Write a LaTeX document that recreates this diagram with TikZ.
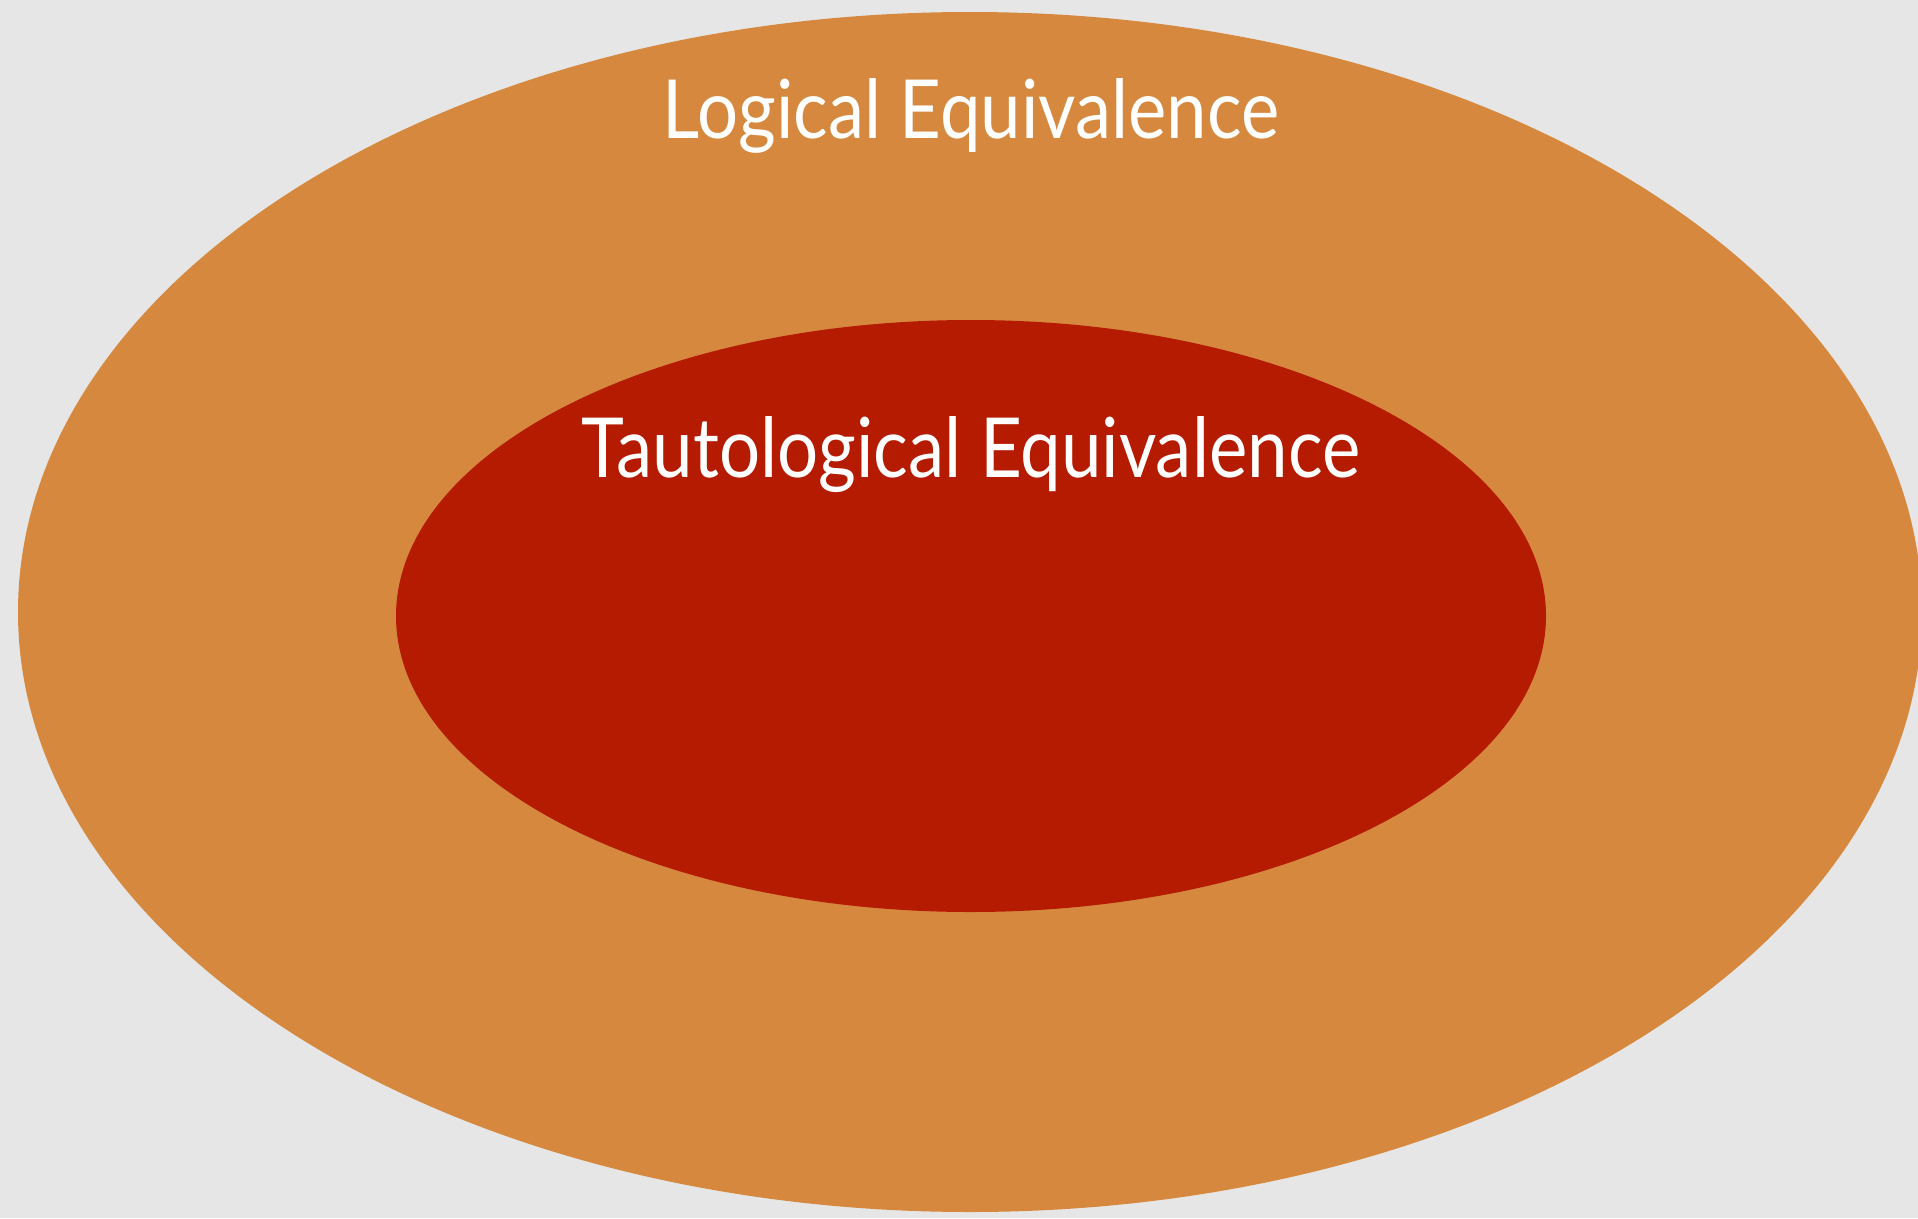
\documentclass[tikz,border=0pt]{standalone}
\usepackage{fontspec}
\setmainfont{Lato}
\usetikzlibrary{shapes.geometric}
\definecolor{bggray}{HTML}{E6E6E6}
\definecolor{outerorange}{HTML}{D6893E}
\definecolor{innerred}{HTML}{B41B00}
\tikzset{
  blob/.style={ellipse, inner sep=0pt, draw=none},
  label/.style={text=white, inner sep=0pt, anchor=base}
}
\begin{document}
\begin{tikzpicture}[x=1pt,y=-1pt]
\fill[bggray] (0,0) rectangle (1918,1218);
\useasboundingbox (0,0) rectangle (1918,1218);
\node[blob, fill=outerorange, minimum width=1904pt, minimum height=1200pt] (outer) at (970,612) {};
\node[blob, fill=innerred, minimum width=1150pt, minimum height=592pt] (inner) at (971,616) {};
\node[label] (logical) at (971,138) {\resizebox{616pt}{60pt}{Logical Equivalence}};
\node[label] (tauto) at (971,477) {\resizebox{778pt}{61pt}{Tautological Equivalence}};
\end{tikzpicture}
\end{document}
